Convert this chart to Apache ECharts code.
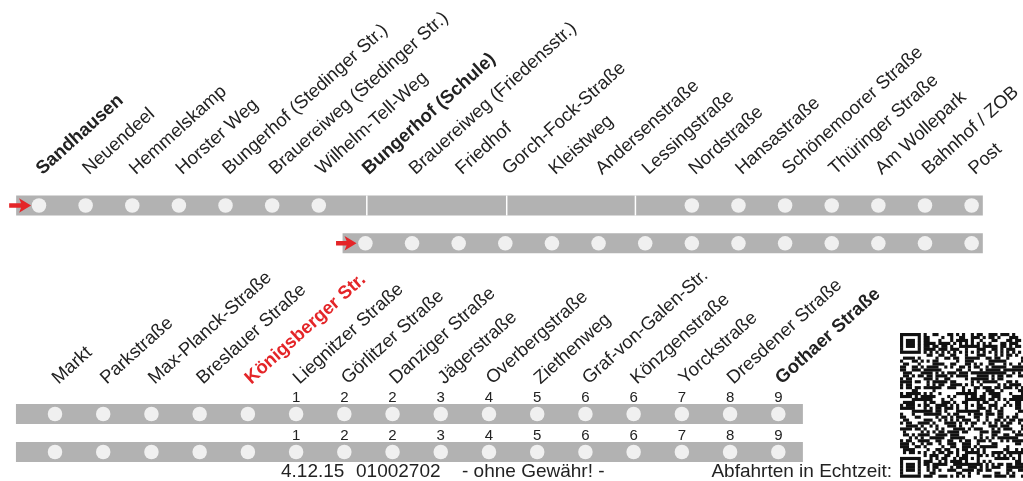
<!DOCTYPE html>
<html><head><meta charset="utf-8">
<script src="https://cdn.jsdelivr.net/npm/echarts@6/dist/echarts.min.js"></script>
<style>html,body{margin:0;padding:0;background:#fff}#c{width:1023px;height:481px}</style>
</head><body><div id="c"></div>
<script>
// ---------- data ----------
const topStops = ['Sandhausen','Neuendeel','Hemmelskamp','Horster Weg','Bungerhof (Stedinger Str.)','Brauereiweg (Stedinger Str.)','Wilhelm-Tell-Weg','Bungerhof (Schule)','Brauereiweg (Friedensstr.)','Friedhof','Gorch-Fock-Straße','Kleistweg','Andersenstraße','Lessingstraße','Nordstraße','Hansastraße','Schönemoorer Straße','Thüringer Straße','Am Wollepark','Bahnhof / ZOB','Post'];
const topBoldStops = ['Sandhausen','Bungerhof (Schule)'];
const topRow1Served = [1,1,1,1,1,1,1,0,0,0,0,0,0,0,1,1,1,1,1,1,1];
const topRow2Served = [0,0,0,0,0,0,0,1,1,1,1,1,1,1,1,1,1,1,1,1,1];
const topRow1Band = [-0.49, 20.24];
const topRow2Band = [6.51, 20.24];
const topRow1Breaks = [7.03, 10.03, 12.79];
const topRow1Arrow = [-0.64, -0.17];
const topRow2Arrow = [6.37, 6.81];

const bottomStops = ['Markt','Parkstraße','Max-Planck-Straße','Breslauer Straße','Königsberger Str.','Liegnitzer Straße','Görlitzer Straße','Danziger Straße','Jägerstraße','Overbergstraße','Ziethenweg','Graf-von-Galen-Str.','Könzgenstraße','Yorckstraße','Dresdener Straße','Gothaer Straße'];
const bottomBoldStops = ['Gothaer Straße'];
const bottomHighlightStop = 'Königsberger Str.';
const bottomZones = ['','','','','','1','2','2','3','4','5','6','6','7','8','9'];
const bottomRow1Served = [1,1,1,1,1,1,1,1,1,1,1,1,1,1,1,1];
const bottomRow2Served = [1,1,1,1,1,1,1,1,1,1,1,1,1,1,1,1];
const bottomBand = [-0.81, 15.51];

const footerDate = '4.12.15';
const footerCode = '01002702';
const footerNote = '- ohne Gewähr! -';
const footerRealtime = 'Abfahrten in Echtzeit:';

// ---------- styles ----------
const FONT = 'Liberation Sans, Arial, Helvetica, sans-serif';
const GREY = '#b2b2b2';
const RED = '#e42528';
const INK = '#222222';

function dotsFrom(served, row){ const out=[]; served.forEach((s,i)=>{ if(s) out.push([i,row]); }); return out; }

function bandItem(params, api){
  const row = api.value(2);
  const a = api.coord([api.value(0), row]);
  const b = api.coord([api.value(1), row]);
  return {type:'rect', shape:{x:a[0], y:a[1]-10, width:b[0]-a[0], height:20}, style:{fill:GREY}};
}
function breakItem(params, api){
  const p = api.coord([api.value(0), api.value(1)]);
  return {type:'line', shape:{x1:p[0], y1:p[1]-10, x2:p[0], y2:p[1]+10}, style:{stroke:'#ffffff', lineWidth:1.5}};
}
function arrowItem(params, api){
  const row = api.value(2);
  const t = api.coord([api.value(0), row]);
  const p = api.coord([api.value(1), row]);
  const y = p[1];
  return {type:'polygon', shape:{points:[[t[0],y-2.3],[p[0]-10,y-2.3],[p[0]-12,y-7.3],[p[0],y],[p[0]-12,y+7.3],[p[0]-10,y+2.3],[t[0],y+2.3]]}, style:{fill:RED}};
}
function zoneItem(params, api){
  const p = api.coord([api.value(0), api.value(1)]);
  const txt = bottomZones[api.value(0)];
  return {type:'text', x:p[0], y:p[1]-16, style:{text:txt, fill:INK, fontSize:15, fontFamily:FONT, align:'center', verticalAlign:'middle'}};
}

const labelBase = {interval:0, hideOverlap:false, rotate:42, align:'left', verticalAlign:'middle', fontSize:18.5, color:INK, fontFamily:FONT};

const topCat = topStops.map(s => topBoldStops.includes(s) ? {value:s, textStyle:{fontWeight:'bold'}} : s);
const bottomCat = bottomStops.map(s => s===bottomHighlightStop ? {value:s, textStyle:{fontWeight:'bold', color:RED}} : (bottomBoldStops.includes(s) ? {value:s, textStyle:{fontWeight:'bold'}} : s));

const zoneData = [];
bottomZones.forEach((z,i)=>{ if(z!=='') { zoneData.push([i,0]); zoneData.push([i,1]); } });

// ---------- QR-like image ----------
function buildQR(){
  const N = 49, S = 2.95, X0 = 900, Y0 = 333;
  const g = [];
  for(let r=0;r<N;r++){ g.push(new Array(N).fill(null)); }
  function finder(r0,c0){
    for(let r=-1;r<=7;r++) for(let c=-1;c<=7;c++){
      const rr=r0+r, cc=c0+c; if(rr<0||cc<0||rr>=N||cc>=N) continue;
      let v=0;
      if(r>=0&&r<=6&&c>=0&&c<=6){ if(r===0||r===6||c===0||c===6) v=1; else if(r>=2&&r<=4&&c>=2&&c<=4) v=1; }
      g[rr][cc]=v;
    }
  }
  finder(0,0); finder(0,N-7); finder(N-7,0);
  for(let i=8;i<N-8;i++){ g[6][i]=(i%2===0)?1:0; g[i][6]=(i%2===0)?1:0; }
  const al=[6,24,42];
  al.forEach(ar=>al.forEach(ac=>{
    if((ar===6&&ac===6)||(ar===6&&ac===42)||(ar===42&&ac===6)) return;
    for(let r=-2;r<=2;r++) for(let c=-2;c<=2;c++){
      const m=Math.max(Math.abs(r),Math.abs(c));
      g[ar+r][ac+c]=(m===1)?0:1;
    }
  }));
  function h(r,c){ let x=(r*374761393 + c*668265263)|0; x=Math.imul(x^(x>>>13),1274126177); x=x^(x>>>16); return ((x>>>3)&7) < 4 ? 1 : 0; }
  for(let r=0;r<N;r++) for(let c=0;c<N;c++) if(g[r][c]===null) g[r][c]=h(r,c);
  const rects=[];
  for(let r=0;r<N;r++){
    let c=0;
    while(c<N){
      if(g[r][c]===1){ let e=c; while(e+1<N&&g[r][e+1]===1) e++;
        rects.push({type:'rect', shape:{x:X0+c*S, y:Y0+r*S, width:(e-c+1)*S+0.2, height:S+0.2}, style:{fill:'#111'}});
        c=e+1; } else c++;
    }
  }
  return rects;
}

const chart = echarts.init(document.getElementById('c'), null, {renderer:'canvas'});
chart.setOption({
  animation:false,
  backgroundColor:'#ffffff',
  grid:[
    {left:39, right:1023-971.63, top:205.5, bottom:481-243.3, outerBoundsMode:'none', containLabel:false},
    {left:55, right:1023-778.3, top:414, bottom:481-452, outerBoundsMode:'none', containLabel:false}
  ],
  xAxis:[
    {type:'category', gridIndex:0, position:'top', data:topCat, boundaryGap:false, axisLine:{show:false}, axisTick:{show:false}, splitLine:{show:false}, axisLabel:Object.assign({}, labelBase, {margin:34})},
    {type:'value', gridIndex:0, min:0, max:20, show:false},
    {type:'category', gridIndex:1, position:'top', data:bottomCat, boundaryGap:false, axisLine:{show:false}, axisTick:{show:false}, splitLine:{show:false}, axisLabel:Object.assign({}, labelBase, {margin:33})},
    {type:'value', gridIndex:1, min:0, max:15, show:false}
  ],
  yAxis:[
    {type:'value', gridIndex:0, min:0, max:1, inverse:true, show:false},
    {type:'value', gridIndex:1, min:0, max:1, inverse:true, show:false}
  ],
  series:[
    {type:'custom', xAxisIndex:1, yAxisIndex:0, renderItem:bandItem, encode:{x:[0,1], y:2}, data:[[topRow1Band[0],topRow1Band[1],0],[topRow2Band[0],topRow2Band[1],1]], silent:true},
    {type:'custom', xAxisIndex:1, yAxisIndex:0, renderItem:breakItem, encode:{x:0, y:1}, data:topRow1Breaks.map(b=>[b,0]), silent:true},
    {type:'scatter', xAxisIndex:1, yAxisIndex:0, symbol:'circle', symbolSize:14.5, itemStyle:{color:'#ffffff'}, data:dotsFrom(topRow1Served,0).concat(dotsFrom(topRow2Served,1)), silent:true},
    {type:'custom', xAxisIndex:1, yAxisIndex:0, renderItem:arrowItem, encode:{x:[0,1], y:2}, data:[[topRow1Arrow[0],topRow1Arrow[1],0],[topRow2Arrow[0],topRow2Arrow[1],1]], silent:true},

    {type:'custom', xAxisIndex:3, yAxisIndex:1, renderItem:bandItem, encode:{x:[0,1], y:2}, data:[[bottomBand[0],bottomBand[1],0],[bottomBand[0],bottomBand[1],1]], silent:true},
    {type:'scatter', xAxisIndex:3, yAxisIndex:1, symbol:'circle', symbolSize:14.5, itemStyle:{color:'#ffffff'}, data:dotsFrom(bottomRow1Served,0).concat(dotsFrom(bottomRow2Served,1)), silent:true},
    {type:'custom', xAxisIndex:3, yAxisIndex:1, renderItem:zoneItem, encode:{x:0, y:1}, data:zoneData, silent:true}
  ],
  graphic:[
    {type:'text', left:281, top:462, style:{text:footerDate, fill:INK, fontSize:19, fontFamily:FONT}},
    {type:'text', left:356, top:462, style:{text:footerCode, fill:INK, fontSize:19, fontFamily:FONT}},
    {type:'text', left:462, top:462, style:{text:footerNote, fill:INK, fontSize:19, fontFamily:FONT}},
    {type:'text', right:1023-892, top:462, style:{text:footerRealtime, fill:INK, fontSize:19, fontFamily:FONT}},
    {type:'group', silent:true, children:buildQR()}
  ]
});
</script>
</body></html>
